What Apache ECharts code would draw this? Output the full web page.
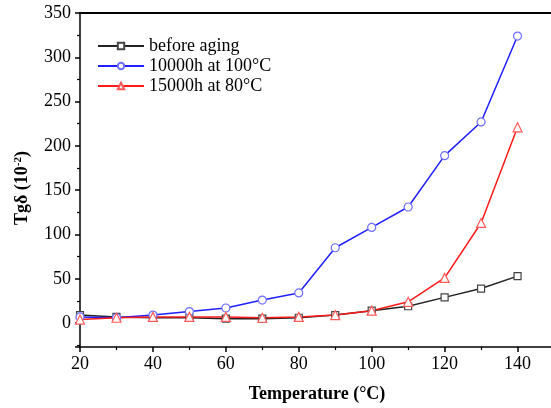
<!DOCTYPE html>
<html>
<head>
<meta charset="utf-8">
<script src="https://cdn.jsdelivr.net/npm/echarts@6/dist/echarts.min.js"></script>
<style>
  html, body { margin: 0; padding: 0; background: #fff; }
  #chart { width: 551px; height: 408px; }
</style>
</head>
<body>
<div id="chart"></div>
<script>
// temperatures (°C)
const temps = [20, 30, 40, 50, 60, 70, 80, 90, 100, 110, 120, 130, 140];
// Tgδ (10^-2)
const beforeAging = [9, 7, 6, 6, 5, 5, 6, 9, 14, 19, 29, 39, 53];
const aged100 = [7, 6, 9, 13, 17, 26, 34, 85, 108, 131, 189, 227, 324];
const aged80 = [4, 6, 7, 7, 7, 6, 7, 9, 14, 24, 51, 113, 221];
const seriesNames = ['before aging', '10000h at 100°C', '15000h at 80°C'];

const font = 'Liberation Serif';
const chart = echarts.init(document.getElementById('chart'));

const pairs = (ys) => temps.map((t, i) => [t, ys[i]]);

const makeSeries = (name, data, color, markColor, symbol, size) => ({
  name: name,
  type: 'line',
  data: pairs(data),
  symbol: symbol,
  symbolSize: size,
  lineStyle: { color: color, width: 1.5 },
  itemStyle: { color: '#fff', borderColor: markColor, borderWidth: 1.2 },
  emphasis: { disabled: true },
  z: 3
});

const option = {
  animation: false,
  grid: {
    left: 80, top: 13, right: -3, bottom: 61,
    outerBoundsMode: 'none'
  },
  legend: {
    orient: 'vertical',
    left: 92, top: 32,
    itemWidth: 46, itemHeight: 8, itemGap: 2,
    textStyle: { fontFamily: font, fontSize: 18, color: '#000' },
    data: seriesNames
  },
  xAxis: [{
    type: 'value',
    min: 20, max: 150, interval: 20,
    name: 'Temperature (°C)',
    nameLocation: 'middle',
    nameGap: 38,
    nameTextStyle: { fontFamily: font, fontSize: 18, fontWeight: 'bold', color: '#000' },
    axisLine: { onZero: false, lineStyle: { color: '#000', width: 1.5 } },
    axisTick: { inside: false, length: 5, lineStyle: { width: 1.5 } },
    minorTick: { show: true, splitNumber: 2, length: 3, lineStyle: { color: '#000', width: 1.2 } },
    axisLabel: {
      fontFamily: font, fontSize: 18, color: '#000', margin: 8,
      formatter: (v) => (v <= 140 ? String(v) : '')
    },
    splitLine: { show: false }
  }, {
    // plain top border of the frame
    type: 'value',
    position: 'top',
    min: 20, max: 150,
    axisLine: { show: true, onZero: false, lineStyle: { color: '#000', width: 2 } },
    axisTick: { show: false },
    axisLabel: { show: false },
    splitLine: { show: false }
  }],
  yAxis: {
    type: 'value',
    min: -27, max: 350,
    splitNumber: 8, minInterval: 50, maxInterval: 50,
    name: '{a|Tgδ (10}{s|-2}{a|)}',
    nameLocation: 'middle',
    nameGap: 48,
    nameTextStyle: {
      padding: [0, 16, 0, 0],
      rich: {
        a: { fontFamily: font, fontSize: 18, fontWeight: 'bold', color: '#000' },
        s: { fontFamily: font, fontSize: 11, fontWeight: 'bold', color: '#000', verticalAlign: 'top', padding: [0, 0, 8, 0] }
      }
    },
    axisLine: { show: true, onZero: false, lineStyle: { color: '#000', width: 1.5 } },
    axisTick: { show: true, inside: false, length: 5, lineStyle: { width: 1.5 } },
    minorTick: { show: true, splitNumber: 2, length: 3, lineStyle: { color: '#000', width: 1.2 } },
    axisLabel: {
      fontFamily: font, fontSize: 18, color: '#000', margin: 9,
      showMinLabel: false,
      formatter: (v) => (v % 50 === 0 ? String(v) : '')
    },
    splitLine: { show: false }
  },
  series: [
    makeSeries(seriesNames[0], beforeAging, '#222', '#444', 'rect', 7),
    makeSeries(seriesNames[1], aged100, '#1f1fff', '#6f6fff', 'circle', 8),
    makeSeries(seriesNames[2], aged80, '#ff1a1a', '#ff5a5a', 'triangle', 9)
  ]
};

chart.setOption(option);
</script>
</body>
</html>
